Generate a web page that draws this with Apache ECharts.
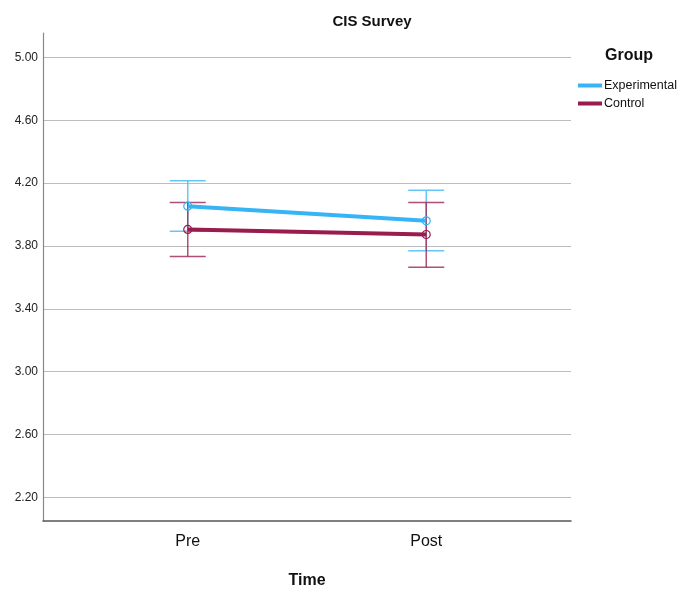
<!DOCTYPE html>
<html><head><meta charset="utf-8">
<script src="https://cdn.jsdelivr.net/npm/echarts@6/dist/echarts.min.js"></script>
<style>html,body{margin:0;padding:0;background:#fff}#c{width:679px;height:595px}</style>
</head><body><div id="c"></div>
<script>
const categories = ['Pre', 'Post'];
const groups = ['Experimental', 'Control'];
const expMean = [4.053, 3.960];
const expLow  = [3.894, 3.769];
const expHigh = [4.215, 4.155];
const ctlMean = [3.905, 3.873];
const ctlLow  = [3.733, 3.665];
const ctlHigh = [4.077, 4.077];
const yTicks = [2.20, 2.60, 3.00, 3.40, 3.80, 4.20, 4.60, 5.00];

const expColor = '#36b4f5';
const ctlColor = '#9a1b4e';
const FONT = '"Liberation Sans Narrow","Liberation Sans",Arial,sans-serif';

function pts(arr){ return arr.map((v,i)=>[i+1, v]); }
function errData(low, high){ return low.map((l,i)=>[i+1, l, high[i]]); }

function errSeries(name, low, high, color){
  return {
    type:'custom', name: name, silent:true, z:1,
    data: errData(low, high),
    renderItem: function(params, api){
      const x = api.value(0);
      const lo = api.coord([x, api.value(1)]);
      const hi = api.coord([x, api.value(2)]);
      const hw = 18;
      const st = {stroke: color, lineWidth: 1.5, opacity: 0.85};
      return {type:'group', children:[
        {type:'line', shape:{x1:lo[0], y1:lo[1], x2:hi[0], y2:hi[1]}, style:st},
        {type:'line', shape:{x1:lo[0]-hw, y1:lo[1], x2:lo[0]+hw, y2:lo[1]}, style:st},
        {type:'line', shape:{x1:hi[0]-hw, y1:hi[1], x2:hi[0]+hw, y2:hi[1]}, style:st}
      ]};
    }
  };
}

function lineSeries(name, mean, color){
  return {
    type:'line', name:name, data: pts(mean), z:3,
    symbol:'circle', symbolSize:8,
    lineStyle:{color:color, width:4},
    itemStyle:{color:'rgba(255,255,255,0)', borderColor:color, borderWidth:1.2},
    emphasis:{disabled:true}, animation:false
  };
}

const chart = echarts.init(document.getElementById('c'));
chart.setOption({
  animation:false,
  title:[
    {text:'CIS Survey', left:367, top:9, textAlign:'center',
     textStyle:{fontFamily:FONT, fontSize:15, fontWeight:'bold', color:'#111'}},
    {text:'Group', left:600, top:43,
     textStyle:{fontFamily:FONT, fontSize:16, fontWeight:'bold', color:'#111'}}
  ],
  legend:{
    orient:'vertical', left:573, top:74, itemGap:5, itemWidth:24, itemHeight:4,
    textStyle:{fontFamily:FONT, fontSize:12.5, color:'#111', padding:[0,0,0,-3]},
    data:[
      {name:'Experimental', icon:'rect', itemStyle:{color:expColor, borderWidth:0}},
      {name:'Control', icon:'rect', itemStyle:{color:ctlColor, borderWidth:0}}
    ]
  },
  grid:{left:43, top:33, right:108, bottom:74, containLabel:false},
  xAxis:{
    type:'value', min:0.393, max:2.607,
    name:'Time', nameLocation:'middle', nameGap:52,
    nameTextStyle:{fontFamily:FONT, fontSize:16, fontWeight:'bold', color:'#111'},
    axisLine:{lineStyle:{color:'#555', width:1.5}},
    axisTick:{show:false, customValues:[1,2]},
    axisLabel:{customValues:[1,2], formatter:v=>categories[Math.round(v)-1],
      fontFamily:FONT, fontSize:16, color:'#111', margin:13},
    splitLine:{show:false}
  },
  yAxis:{
    type:'value', min:2.05, max:5.155,
    axisLine:{show:true, lineStyle:{color:'#888', width:1.2}},
    axisTick:{show:false, customValues:yTicks},
    axisLabel:{customValues:yTicks, formatter:v=>v.toFixed(2),
      fontFamily:FONT, fontSize:12, color:'#222', margin:5},
    splitLine:{show:true, lineStyle:{color:'#bdbdbd', width:1.2}}
  },
  series:[
    errSeries('Experimental', expLow, expHigh, '#4cbcf7'),
    errSeries('Control', ctlLow, ctlHigh, '#a0305f'),
    lineSeries('Experimental', expMean, expColor),
    lineSeries('Control', ctlMean, ctlColor)
  ]
});
</script></body></html>
